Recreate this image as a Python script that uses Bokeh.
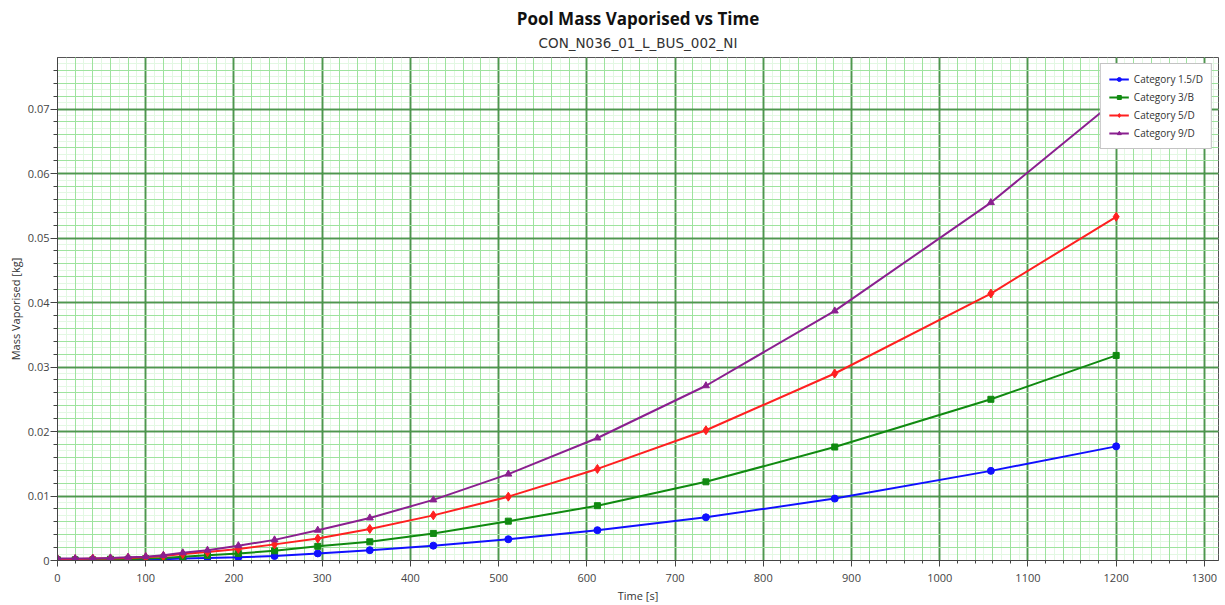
from bokeh.plotting import figure
from bokeh.models import (Range1d, SingleIntervalTicker, Grid, Legend, LegendItem,
                          Title, NumeralTickFormatter)
from bokeh.embed import file_html
from bokeh.resources import INLINE

# ---- data ----
time_s = [0, 20, 40, 60, 80, 100, 120, 142, 170, 205, 246, 295, 354, 426, 511, 612, 735, 881, 1058, 1200]
cat_15D = [0.0001, 0.0001, 0.0001, 0.0001, 0.0001, 0.0002, 0.0002, 0.0003, 0.0004, 0.0005,
           0.0007, 0.0011, 0.0016, 0.0023, 0.0033, 0.0047, 0.0067, 0.0096, 0.0139, 0.0177]
cat_3B = [0.0001, 0.0001, 0.0001, 0.0002, 0.0002, 0.0003, 0.0004, 0.0006, 0.0008, 0.0011,
          0.0015, 0.0022, 0.0029, 0.0042, 0.0061, 0.0085, 0.0122, 0.0176, 0.0250, 0.0318]
cat_5D = [0.0002, 0.0002, 0.0003, 0.0003, 0.0004, 0.0005, 0.0007, 0.0010, 0.0013, 0.0018,
          0.0025, 0.0034, 0.0049, 0.0070, 0.0099, 0.0142, 0.0202, 0.0290, 0.0414, 0.0533]
cat_9D = [0.0003, 0.0003, 0.0003, 0.0004, 0.0005, 0.0006, 0.0008, 0.0012, 0.0016, 0.0023,
          0.0032, 0.0047, 0.0066, 0.0094, 0.0134, 0.0190, 0.0271, 0.0387, 0.0555, 0.0714]
series_names = ["Category 1.5/D", "Category 3/B", "Category 5/D", "Category 9/D"]

title_text = "Pool Mass Vaporised vs Time"
subtitle_text = "CON_N036_01_L_BUS_002_NI"
x_label = "Time [s]"
y_label = "Mass Vaporised [kg]"

FONT = "Open Sans"

p = figure(width=1224, height=605,
           x_range=Range1d(0, 1316), y_range=Range1d(0, 0.078),
           output_backend="svg", toolbar_location=None,
           min_border_left=57, min_border_right=6, min_border_top=57, min_border_bottom=44)
p.background_fill_color = "white"
p.border_fill_color = "white"
p.outline_line_color = "#555555"
p.outline_line_width = 1

# titles (first added is closest to the frame)
sub = Title(text=subtitle_text, align="center", text_font="DejaVu Sans", text_font_size="13.5px",
            text_font_style="normal", text_color="#333333", standoff=13)
main = Title(text=title_text, align="center", text_font=FONT, text_font_size="17px",
             text_font_style="bold", text_color="#111111", standoff=-7)
p.add_layout(sub, "above")
p.add_layout(main, "above")

# axes / tickers
xt = SingleIntervalTicker(interval=100, num_minor_ticks=5)
yt = SingleIntervalTicker(interval=0.01, num_minor_ticks=5)
p.xaxis.ticker = xt
p.yaxis.ticker = yt
p.yaxis.formatter = NumeralTickFormatter(format="0.[00]")
for ax in (p.xaxis[0], p.yaxis[0]):
    ax.axis_line_color = "#444444"
    ax.major_tick_line_color = "#444444"
    ax.minor_tick_line_color = "#444444"
    ax.major_tick_in = 0
    ax.minor_tick_in = 0
    ax.major_label_text_font = FONT
    ax.major_label_text_font_size = "11px"
    ax.major_label_text_color = "#444444"
    ax.axis_label_text_font = FONT
    ax.axis_label_text_font_size = "11px"
    ax.axis_label_text_font_style = "normal"
    ax.axis_label_text_color = "#333333"
p.xaxis.major_tick_out = 6
p.xaxis.minor_tick_out = 3
p.yaxis.major_tick_out = 7
p.yaxis.minor_tick_out = 4
p.xaxis.major_label_standoff = 7
p.yaxis.major_label_standoff = 1
p.xaxis.axis_label = x_label
p.yaxis.axis_label = y_label
p.xaxis.axis_label_standoff = 3
p.yaxis.axis_label_standoff = 2

# grids
for g, t in ((p.xgrid[0], xt), (p.ygrid[0], yt)):
    g.ticker = t
    g.grid_line_color = "#3f8a3f"
    g.grid_line_width = 2
    g.grid_line_alpha = 0.85
    g.minor_grid_line_color = "#9ee39e"
    g.minor_grid_line_width = 1

fine_x = Grid(dimension=0, ticker=SingleIntervalTicker(interval=10), grid_line_color="#e3f8e3",
              grid_line_width=1, level="image")
fine_y = Grid(dimension=1, ticker=SingleIntervalTicker(interval=0.001), grid_line_color="#e3f8e3",
              grid_line_width=1, level="image")
p.add_layout(fine_x)
p.add_layout(fine_y)

# series
colors = ["#1010ff", "#108a10", "#ff2020", "#8a208f"]
markers = ["circle", "square", "diamond", "triangle"]
sizes = [7, 6, 9, 7]
data = [cat_15D, cat_3B, cat_5D, cat_9D]
items = []
for name, ys, c, m, s in zip(series_names, data, colors, markers, sizes):
    lr = p.line(time_s, ys, line_color=c, line_width=2)
    sr = p.scatter(time_s, ys, marker=m, size=s, fill_color=c, line_color=c)
    items.append(LegendItem(label=name, renderers=[lr, sr]))

legend = Legend(items=items, location="top_right", margin=6,
                label_text_font=FONT, label_text_font_size="10px", label_text_color="#333333",
                glyph_width=20, glyph_height=10, label_height=12, spacing=4, padding=8,
                border_line_color="#888888", border_line_width=1,
                background_fill_color="white", background_fill_alpha=1.0)
p.add_layout(legend)

open("out.html", "w").write(file_html(p, INLINE))
